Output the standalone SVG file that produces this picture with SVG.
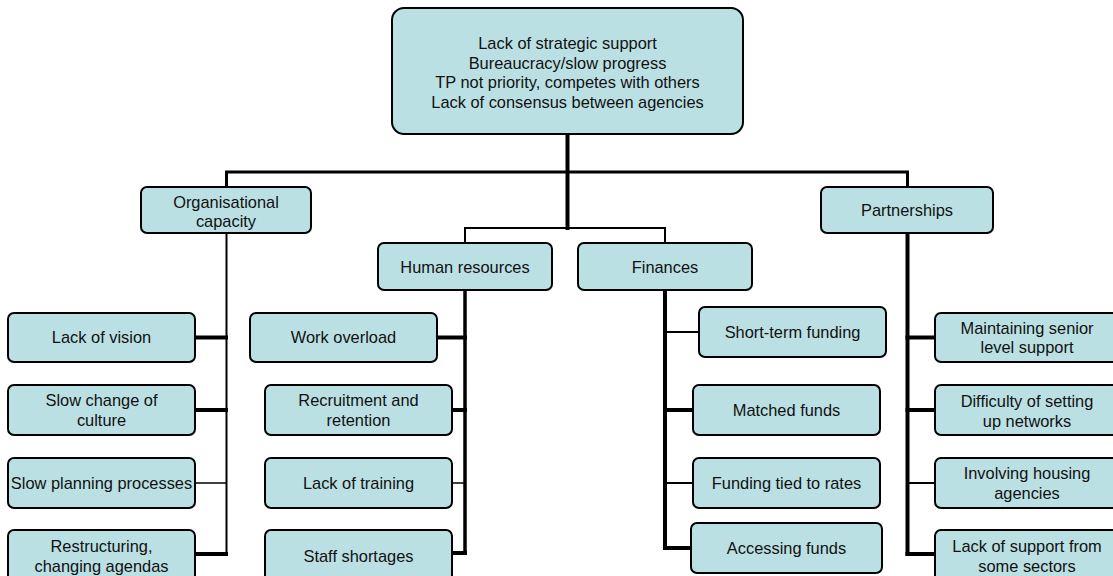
<svg xmlns="http://www.w3.org/2000/svg" width="1113" height="576" viewBox="0 0 1113 576">
<style>
.box{fill:#BBE0E3;stroke:#000;stroke-width:2}
.t{font-family:"Liberation Sans",Arial,sans-serif;font-size:16.4px;fill:#111;text-anchor:middle}
.c{fill:none;stroke:#000;stroke-linecap:square}
</style>
<rect width="1113" height="576" fill="#fff"/>
<g id="connectors">
<path class="c" stroke-width="4" d="M567.5,134V228"/>
<path class="c" stroke-width="3" d="M226.5,187V172H907.5V187"/>
<path class="c" stroke-width="2" d="M465,243V228H665V243"/>
<path class="c" stroke-width="2" d="M226.5,233V554"/>
<path class="c" stroke-width="3.5" d="M465,290V553"/>
<path class="c" stroke-width="4" d="M665,290V548"/>
<path class="c" stroke-width="4" d="M907.5,233V554"/>
<path class="c" stroke-width="4" d="M195,337.5H226M195,410H226M195,554H226"/>
<path class="c" stroke-width="1.5" d="M195,483H226"/>
<path class="c" stroke-width="4" d="M437,337.5H465M452,410H465M452,553H465"/>
<path class="c" stroke-width="1.5" d="M452,483H465"/>
<path class="c" stroke-width="2" d="M665,332H699M665,483H693"/>
<path class="c" stroke-width="4" d="M665,410H693M665,548H691"/>
<path class="c" stroke-width="4" d="M907.5,337.5H935M907.5,410H935M907.5,554H935"/>
<path class="c" stroke-width="2" d="M907.5,483H935"/>
</g>
<g id="root"><rect class="box" x="392" y="8" width="351" height="126" rx="12"/>
<text class="t" x="567.5" y="48.8">Lack of strategic support</text>
<text class="t" x="567.5" y="68.5">Bureaucracy/slow progress</text>
<text class="t" x="567.5" y="88">TP not priority, competes with others</text>
<text class="t" x="567.5" y="107.5">Lack of consensus between agencies</text></g>
<g id="org"><rect class="box" x="141" y="187" width="170" height="46" rx="6"/>
<text class="t" x="226" y="207.5">Organisational</text><text class="t" x="226" y="226.5">capacity</text></g>
<g id="partnerships"><rect class="box" x="821" y="187" width="172" height="46" rx="6"/>
<text class="t" x="907" y="216.3">Partnerships</text></g>
<g id="hr"><rect class="box" x="378" y="243" width="174" height="47" rx="6"/>
<text class="t" x="465" y="272.8">Human resources</text></g>
<g id="finances"><rect class="box" x="578" y="243" width="174" height="47" rx="6"/>
<text class="t" x="665" y="272.8">Finances</text></g>
<g id="lack-vision"><rect class="box" x="8" y="313" width="187" height="49" rx="6"/>
<text class="t" x="101.5" y="343.3">Lack of vision</text></g>
<g id="slow-culture"><rect class="box" x="8" y="385" width="187" height="50" rx="6"/>
<text class="t" x="101.5" y="406.3">Slow change of</text><text class="t" x="101.5" y="425.8">culture</text></g>
<g id="slow-planning"><rect class="box" x="8" y="458" width="187" height="50" rx="6"/>
<text class="t" x="101.5" y="489">Slow planning processes</text></g>
<g id="restructuring"><rect class="box" x="8" y="530" width="187" height="51" rx="6"/>
<text class="t" x="101.5" y="552.3">Restructuring,</text><text class="t" x="101.5" y="572">changing agendas</text></g>
<g id="work-overload"><rect class="box" x="250" y="313" width="187" height="49" rx="6"/>
<text class="t" x="343.5" y="343.3">Work overload</text></g>
<g id="recruitment"><rect class="box" x="265" y="385" width="187" height="50" rx="6"/>
<text class="t" x="358.5" y="406.3">Recruitment and</text><text class="t" x="358.5" y="425.8">retention</text></g>
<g id="training"><rect class="box" x="265" y="458" width="187" height="50" rx="6"/>
<text class="t" x="358.5" y="489">Lack of training</text></g>
<g id="staff"><rect class="box" x="265" y="530" width="187" height="51" rx="6"/>
<text class="t" x="358.5" y="562.3">Staff shortages</text></g>
<g id="short-term"><rect class="box" x="699" y="307" width="187" height="50" rx="6"/>
<text class="t" x="792.5" y="338">Short-term funding</text></g>
<g id="matched"><rect class="box" x="693" y="385" width="187" height="50" rx="6"/>
<text class="t" x="786.5" y="416">Matched funds</text></g>
<g id="tied"><rect class="box" x="693" y="458" width="187" height="50" rx="6"/>
<text class="t" x="786.5" y="489">Funding tied to rates</text></g>
<g id="accessing"><rect class="box" x="691" y="523" width="191" height="50" rx="6"/>
<text class="t" x="786.5" y="554">Accessing funds</text></g>
<g id="senior"><rect class="box" x="935" y="313" width="184" height="49" rx="6"/>
<text class="t" x="1027" y="333.8">Maintaining senior</text><text class="t" x="1027" y="353.3">level support</text></g>
<g id="networks"><rect class="box" x="935" y="385" width="184" height="50" rx="6"/>
<text class="t" x="1027" y="406.8">Difficulty of setting</text><text class="t" x="1027" y="426.8">up networks</text></g>
<g id="housing"><rect class="box" x="935" y="458" width="184" height="50" rx="6"/>
<text class="t" x="1027" y="479.3">Involving housing</text><text class="t" x="1027" y="498.8">agencies</text></g>
<g id="sectors"><rect class="box" x="935" y="530" width="184" height="51" rx="6"/>
<text class="t" x="1027" y="552.3">Lack of support from</text><text class="t" x="1027" y="572">some sectors</text></g>
</svg>
